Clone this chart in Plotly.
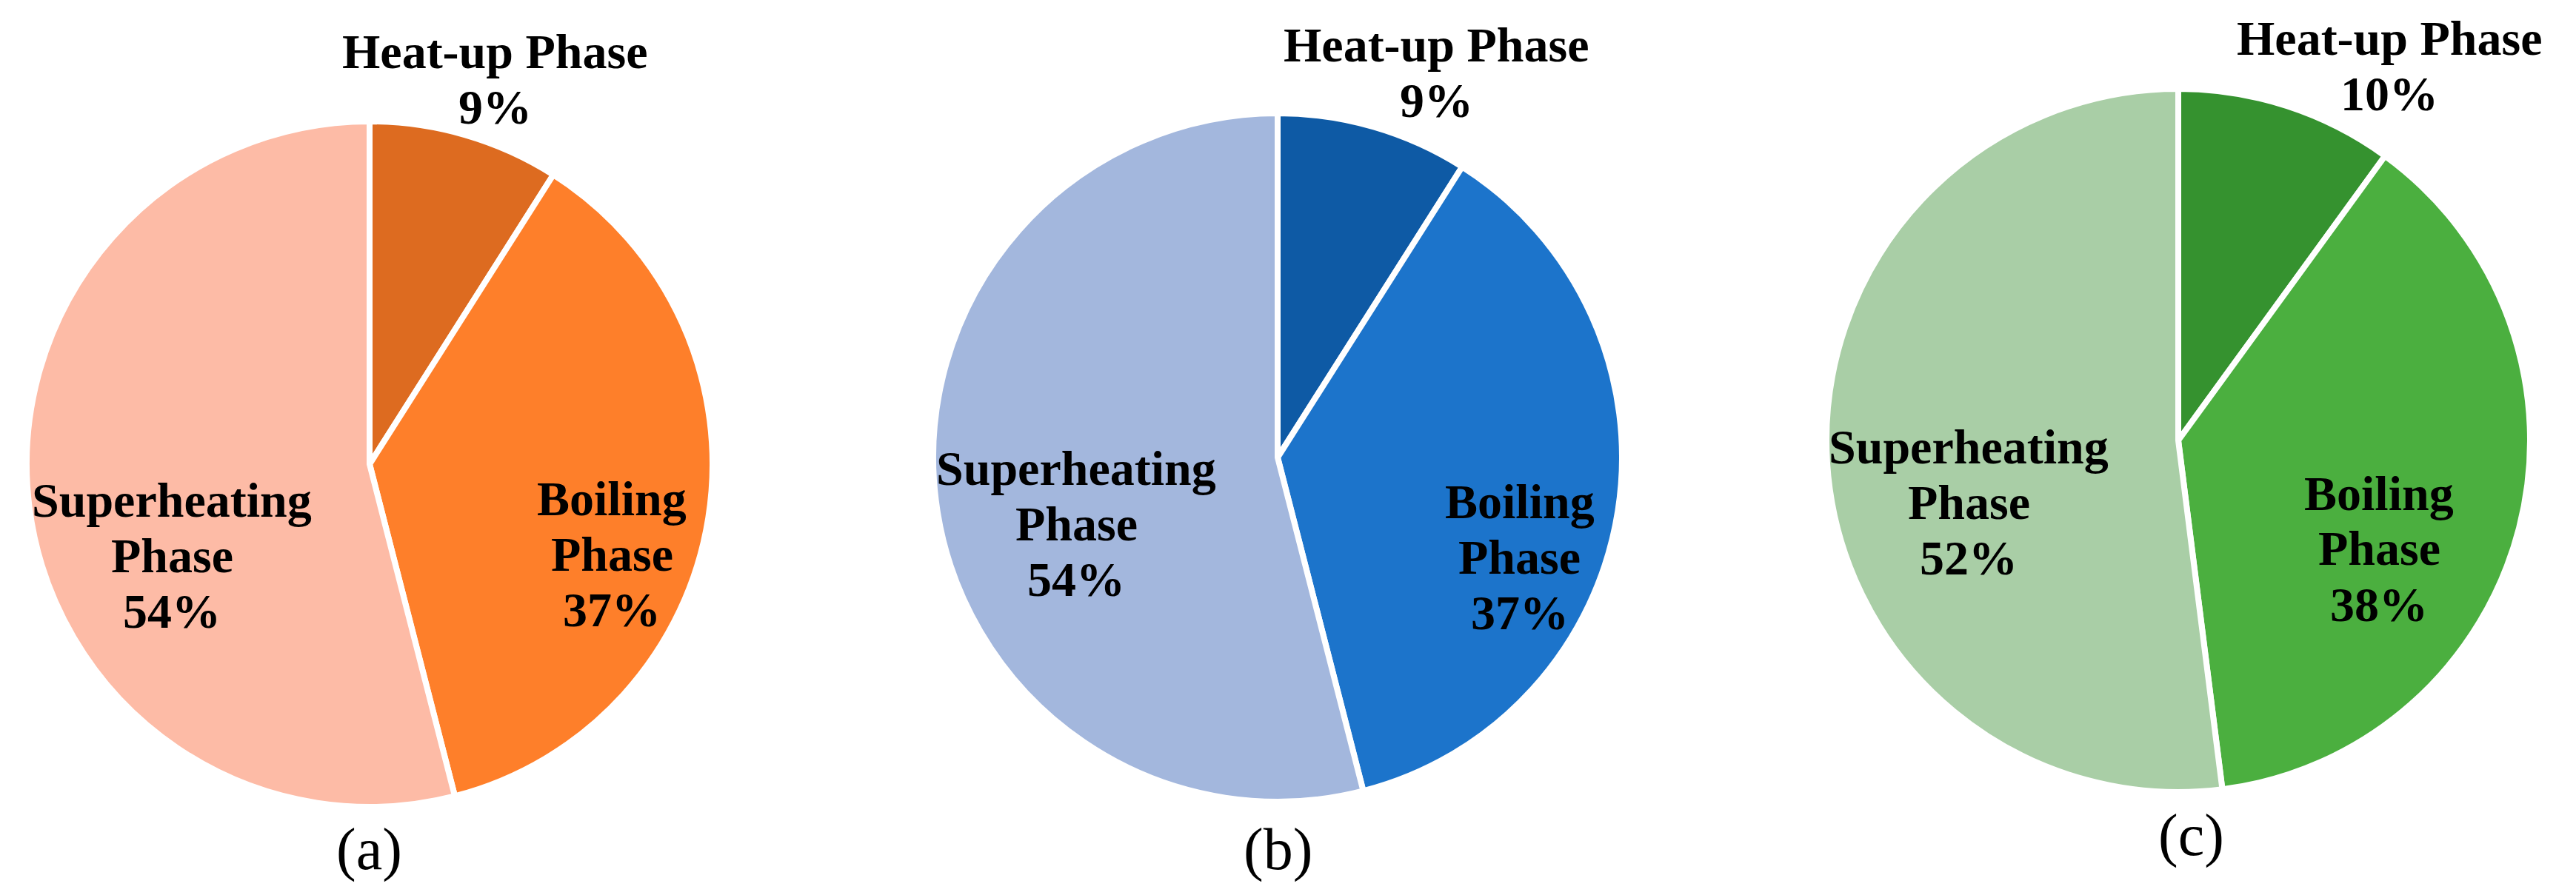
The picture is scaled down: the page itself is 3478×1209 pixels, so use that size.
import plotly.graph_objects as go

W, H = 3478, 1209

phases = ["Heat-up Phase", "Boiling Phase", "Superheating Phase"]
share_a = [9, 37, 54]
share_b = [9, 37, 54]
share_c = [10, 38, 52]
panel_tags = ["(a)", "(b)", "(c)"]

colors_a = ["#DD6B20", "#FE7F2A", "#FDBBA6"]
colors_b = ["#0E5AA5", "#1C74CB", "#A3B7DD"]
colors_c = ["#35922F", "#4BAF3F", "#A9CEA6"]

# pie geometry in pixels: centre x, centre y (from top), visible radius
pies = [(491, 619, 459), (1717, 610, 461), (2933, 587, 471)]
EDGE = 8  # white separator width

# centre of each label block in pixels, same order as phases
label_pos = [
    [(660, 106), (818, 747), (224, 749)],
    [(1931, 97), (2044, 751), (1445, 706)],
    [(3218, 88), (3204, 740), (2650, 677)],
]
tag_pos = [(491, 1146), (1717, 1146), (2950, 1127)]

FONT = "Liberation Serif, Times New Roman, serif"
LINE_GAP = 75
NUDGE = -7  # text boxes sit a little low in the browser


def px(x, y):
    return x / W, 1 - (y + NUDGE) / H


def label_lines(name, pct):
    # heat-up label sits outside on one line, the others are stacked word by word
    words = [name] if name.startswith("Heat") else name.split(" ")
    return words + [f"{pct}%"]


fig = go.Figure()
annotations = []

for k, (share, colors) in enumerate(zip([share_a, share_b, share_c],
                                        [colors_a, colors_b, colors_c])):
    cx, cy, rv = pies[k]
    r = rv + EDGE / 2
    fig.add_trace(go.Pie(
        labels=phases,
        values=share,
        sort=False,
        direction="clockwise",
        rotation=0,
        textinfo="none",
        hoverinfo="label+percent",
        marker=dict(colors=colors, line=dict(color="white", width=EDGE)),
        domain=dict(x=[(cx - r) / W, (cx + r) / W],
                    y=[1 - (cy + r) / H, 1 - (cy - r) / H]),
        showlegend=False,
    ))

    total = sum(share)
    for j, name in enumerate(phases):
        pct = round(100 * share[j] / total)
        lines = label_lines(name, pct)
        bx, by = label_pos[k][j]
        top = by - LINE_GAP * (len(lines) - 1) / 2
        for i, line in enumerate(lines):
            x, y = px(bx, top + i * LINE_GAP)
            annotations.append(dict(
                x=x, y=y, xref="paper", yref="paper",
                text=f"<b>{line}</b>", showarrow=False,
                xanchor="center", yanchor="middle",
                font=dict(family=FONT, size=66, color="black"),
            ))

    tx, ty = px(*tag_pos[k])
    annotations.append(dict(
        x=tx, y=ty, xref="paper", yref="paper",
        text=panel_tags[k], showarrow=False,
        xanchor="center", yanchor="middle",
        font=dict(family=FONT, size=80, color="black"),
    ))

fig.update_layout(
    width=W, height=H,
    margin=dict(l=0, r=0, t=0, b=0),
    paper_bgcolor="white",
    plot_bgcolor="white",
    annotations=annotations,
)

fig.write_html("out.html")
